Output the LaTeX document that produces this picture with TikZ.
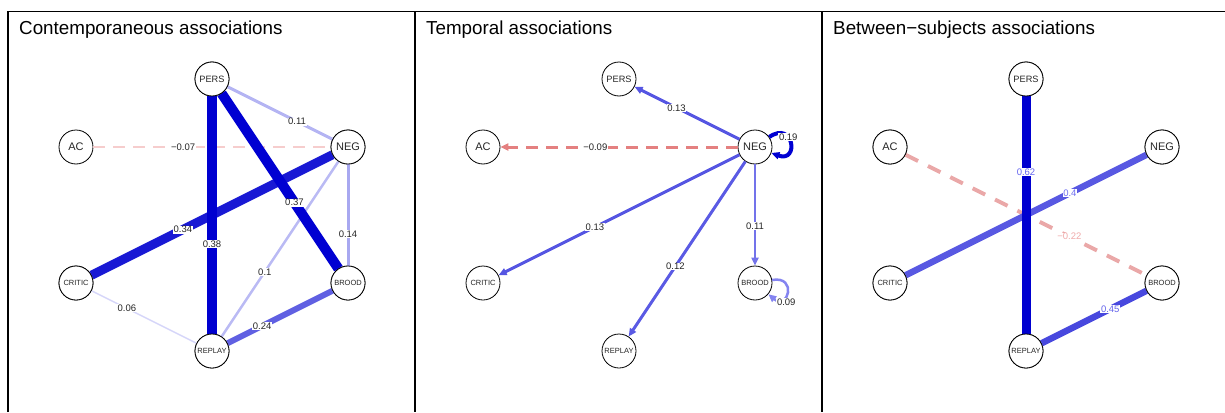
\documentclass[tikz,border=0pt]{standalone}
\usepackage{fontspec}
\setmainfont{Liberation Sans}
\usetikzlibrary{arrows.meta}
\definecolor{cA38}{RGB}{0,0,208}
\definecolor{cA37}{RGB}{0,0,210}
\definecolor{cA34}{RGB}{25,25,212}
\definecolor{cA24}{RGB}{96,96,226}
\definecolor{cA14}{RGB}{168,168,240}
\definecolor{cA11}{RGB}{180,180,243}
\definecolor{cA10}{RGB}{186,186,244}
\definecolor{cA06}{RGB}{214,214,249}
\definecolor{pinkA}{RGB}{246,205,205}
\definecolor{cB13}{RGB}{85,85,226}
\definecolor{cB12}{RGB}{90,90,228}
\definecolor{cB11}{RGB}{115,115,234}
\definecolor{cB19}{RGB}{0,0,210}
\definecolor{cB09}{RGB}{132,132,240}
\definecolor{redB}{RGB}{228,128,128}
\definecolor{cC62}{RGB}{0,0,208}
\definecolor{cC45}{RGB}{72,72,222}
\definecolor{cC40}{RGB}{88,88,226}
\definecolor{cC22}{RGB}{234,168,168}
\definecolor{tC62}{RGB}{100,100,240}
\definecolor{tC40}{RGB}{110,110,240}
\definecolor{tC45}{RGB}{100,100,235}
\definecolor{tC22}{RGB}{240,170,170}
\begin{document}
\begin{tikzpicture}[x=1pt,y=-1pt,
  vnode/.style={circle,draw=black,line width=0.8pt,fill=white,minimum size=34pt,inner sep=0pt,text=black!85},
  elab/.style={fill=white,inner sep=0.6pt,font=\fontsize{9.5}{9.5}\selectfont,text=black!85},
  ttl/.style={anchor=base west,inner sep=0pt,font=\fontsize{18.8}{20}\selectfont},
  bigl/.style={font=\fontsize{11}{11}\selectfont},
  midl/.style={font=\fontsize{9.2}{9.2}\selectfont},
  smalll/.style={font=\fontsize{7.5}{7.5}\selectfont},
  dirarrow/.style={-{Triangle[length=8pt,width=7pt]}},
  dashA/.style={dash pattern=on 12pt off 8pt},
  dashB/.style={dash pattern=on 12pt off 8pt},
  dashC/.style={dash pattern=on 14pt off 11pt},
  frame/.style={line width=1.3pt,black}
]
\useasboundingbox (0,0) rectangle (1225,412);
% frames
\draw[frame] (8,412) -- (8,11.5) -- (1225,11.5);
\draw[frame] (415,11.5) -- (415,412);
\draw[frame] (822,11.5) -- (822,412);
% titles
\node[ttl] (t1) at (19,35) {Contemporaneous associations};
\node[ttl] (t2) at (426,35) {Temporal associations};
\node[ttl] (t3) at (833,35) {Between−subjects associations};

% ---------- panel 1 nodes ----------
\node[vnode,midl] (pers1) at (212,79) {PERS};
\node[vnode,bigl] (ac1) at (76,147) {AC};
\node[vnode,bigl] (neg1) at (348,147) {NEG};
\node[vnode,smalll] (critic1) at (76,283) {CRITIC};
\node[vnode,smalll] (brood1) at (348,283) {BROOD};
\node[vnode,smalll] (replay1) at (212,351) {REPLAY};
% panel 1 edges
\draw[cA06,line width=1.5pt] (critic1) -- (replay1);
\draw[pinkA,line width=2pt,dashA] (ac1) -- (neg1);
\draw[cA10,line width=2.5pt] (neg1) -- (replay1);
\draw[cA11,line width=3pt] (pers1) -- (neg1);
\draw[cA14,line width=3pt] (neg1) -- (brood1);
\draw[cA24,line width=6pt] (brood1) -- (replay1);
\draw[cA34,line width=9pt] (neg1) -- (critic1);
\draw[cA37,line width=10pt] (pers1) -- (brood1);
\draw[cA38,line width=10pt] (pers1) -- (replay1);
% panel 1 labels
\path (pers1) -- node[elab,pos=0.663] (l111) {0.11} (neg1);
\path (ac1) -- node[elab,pos=0.378] (l107) {−0.07} (neg1);
\path (pers1) -- node[elab,pos=0.622] (l138) {0.38} (replay1);
\path (pers1) -- node[elab,pos=0.624] (l137) {0.37} (brood1);
\path (neg1) -- node[elab,pos=0.621] (l134) {0.34} (critic1);
\path (neg1) -- node[elab,pos=0.686] (l114) {0.14} (brood1);
\path (neg1) -- node[elab,pos=0.63] (l110) {0.1} (replay1);
\path (critic1) -- node[elab,pos=0.337] (l106) {0.06} (replay1);
\path (brood1) -- node[elab,pos=0.67] (l124) {0.24} (replay1);
% redraw nodes on top
\node[vnode,midl] at (pers1) {PERS};
\node[vnode,bigl] at (neg1) {NEG};
\node[vnode,smalll] at (brood1) {BROOD};
\node[vnode,smalll] at (replay1) {REPLAY};
\node[vnode,smalll] at (critic1) {CRITIC};

% ---------- panel 2 nodes ----------
\node[vnode,midl] (pers2) at (619,79) {PERS};
\node[vnode,bigl] (ac2) at (483,147) {AC};
\node[vnode,bigl] (neg2) at (755,147) {NEG};
\node[vnode,smalll] (critic2) at (483,283) {CRITIC};
\node[vnode,smalll] (brood2) at (755,283) {BROOD};
\node[vnode,smalll] (replay2) at (619,351) {REPLAY};
% panel 2 edges
\draw[cB09,line width=2.5pt,dirarrow] (brood2) to[out=10,in=-40,distance=26pt] (brood2);
\draw[cB11,line width=2.5pt,dirarrow] (neg2) -- (brood2);
\draw[redB,line width=3pt,dashB,dirarrow] (neg2) -- (ac2);
\draw[cB12,line width=3pt,dirarrow] (neg2) -- (replay2);
\draw[cB13,line width=3pt,dirarrow] (neg2) -- (critic2);
\draw[cB13,line width=3pt,dirarrow] (neg2) -- (pers2);
\draw[cB19,line width=4pt,dirarrow] (neg2) to[out=35,in=-20,distance=30pt] (neg2);
% panel 2 labels
\path (neg2) -- node[elab,pos=0.6] (l213a) {0.13} (pers2);
\path (neg2) -- node[elab,pos=0.6] (l209) {−0.09} (ac2);
\path (neg2) -- node[elab,pos=0.6] (l213b) {0.13} (critic2);
\path (neg2) -- node[elab,pos=0.6] (l212) {0.12} (replay2);
\path (neg2) -- node[elab,pos=0.61] (l211) {0.11} (brood2);
\path (neg2) to[out=35,in=-20,distance=30pt] node[elab,pos=0.38] (l219) {0.19} (neg2);
\path (brood2) to[out=10,in=-40,distance=26pt] node[elab,pos=0.7,xshift=3.5pt,yshift=-4.5pt] (l209b) {0.09} (brood2);

% ---------- panel 3 nodes ----------
\node[vnode,midl] (pers3) at (1026,79) {PERS};
\node[vnode,bigl] (ac3) at (890,147) {AC};
\node[vnode,bigl] (neg3) at (1162,147) {NEG};
\node[vnode,smalll] (critic3) at (890,283) {CRITIC};
\node[vnode,smalll] (brood3) at (1162,283) {BROOD};
\node[vnode,smalll] (replay3) at (1026,351) {REPLAY};
% panel 3 edges
\draw[cC22,line width=4pt,dashC] (ac3) -- (brood3);
\draw[cC40,line width=6.5pt] (neg3) -- (critic3);
\draw[cC45,line width=6.5pt] (brood3) -- (replay3);
\draw[cC62,line width=9pt] (pers3) -- (replay3);
% panel 3 labels
\path (pers3) -- node[elab,pos=0.32,text=tC62] (l362) {0.62} (replay3);
\path (neg3) -- node[elab,pos=0.318,text=tC40] (l340) {0.4} (critic3);
\path (ac3) -- node[elab,pos=0.68,text=tC22] (l322) {−0.22} (brood3);
\path (brood3) -- node[elab,pos=0.345,text=tC45] (l345) {0.45} (replay3);
\node[vnode,midl] at (pers3) {PERS};
\node[vnode,bigl] at (ac3) {AC};
\node[vnode,bigl] at (neg3) {NEG};
\node[vnode,smalll] at (critic3) {CRITIC};
\node[vnode,smalll] at (brood3) {BROOD};
\node[vnode,smalll] at (replay3) {REPLAY};
\end{tikzpicture}
\end{document}
